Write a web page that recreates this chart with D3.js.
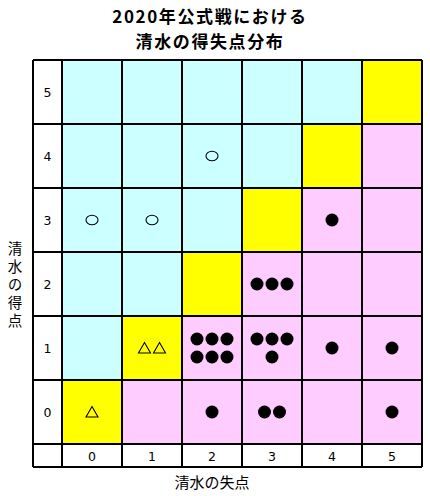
<!DOCTYPE html>
<html><head><meta charset="utf-8">
<script src="https://cdn.jsdelivr.net/npm/d3@7"></script>
<style>html,body{margin:0;padding:0;background:#fff;}</style>
</head><body>
<svg id="c" width="430" height="496"></svg>
<script>
const titleLines = ["2020年公式戦における", "清水の得失点分布"];
const xTitle = "清水の失点";
const yTitle = "清水の得点";
const goalValues = [0, 1, 2, 3, 4, 5];
// each cell: (conceded, scored) -> number of matches
const cellConceded = [0, 1, 2, 3, 4, 5, 2, 3, 5, 3, 4, 0, 1, 2];
const cellScored   = [0, 1, 1, 1, 1, 1, 0, 0, 0, 2, 3, 3, 3, 4];
const cellCounts   = [1, 2, 6, 4, 1, 1, 1, 2, 1, 3, 1, 1, 1, 1];

const svg = d3.select("#c");
const gLeft = 62, gRight = 422, gTop = 60, gBottom = 444, outerLeft = 33, outerBottom = 467;
const x = d3.scaleBand().domain(goalValues).range([gLeft, gRight]);
const y = d3.scaleBand().domain(goalValues).range([gBottom, gTop]);

const winColor = "#ccffff", drawColor = "#ffff00", lossColor = "#ffccff";

svg.append("rect").attr("x", outerLeft).attr("y", gTop).attr("width", gRight - outerLeft).attr("height", outerBottom - gTop).attr("fill", "#fff");

const cells = [];
goalValues.forEach(s => goalValues.forEach(c => cells.push({s, c})));
svg.selectAll("rect.cell").data(cells).join("rect")
  .attr("class", "cell")
  .attr("x", d => x(d.c)).attr("y", d => y(d.s))
  .attr("width", x.bandwidth()).attr("height", y.bandwidth())
  .attr("fill", d => d.s > d.c ? winColor : d.s === d.c ? drawColor : lossColor);

const g = svg.append("g").attr("stroke", "#000").attr("stroke-width", 1.2).attr("shape-rendering", "crispEdges");
[outerLeft, ...goalValues.map(v => x(v)), gRight].forEach(xx =>
  g.append("line").attr("x1", xx).attr("x2", xx).attr("y1", gTop).attr("y2", outerBottom));
[gTop, ...goalValues.map(v => y(v) + y.bandwidth()), outerBottom].forEach(yy =>
  g.append("line").attr("x1", outerLeft).attr("x2", gRight).attr("y1", yy).attr("y2", yy));

const tickFont = "'DejaVu Sans', sans-serif";
svg.selectAll("text.yt").data(goalValues).join("text")
  .attr("class", "yt")
  .attr("x", (outerLeft + gLeft) / 2).attr("y", d => y(d) + y.bandwidth() / 2)
  .attr("text-anchor", "middle").attr("dominant-baseline", "central")
  .attr("font-family", tickFont).attr("font-size", 12.5).text(d => d);
svg.selectAll("text.xt").data(goalValues).join("text")
  .attr("class", "xt")
  .attr("x", d => x(d) + x.bandwidth() / 2).attr("y", (gBottom + outerBottom) / 2 + 1)
  .attr("text-anchor", "middle").attr("dominant-baseline", "central")
  .attr("font-family", tickFont).attr("font-size", 12.5).text(d => d);

const jp = "'Noto Sans CJK JP', sans-serif";
const title = svg.append("text")
  .attr("text-anchor", "middle")
  .attr("font-family", jp).attr("font-weight", "bold").attr("font-size", 17)
  .attr("letter-spacing", 1.6);
title.selectAll("tspan").data(titleLines).join("tspan")
  .attr("x", 210).attr("y", (d, i) => 23 + i * 25)
  .text(d => d);
svg.append("text").attr("x", 212).attr("y", 481)
  .attr("text-anchor", "middle").attr("dominant-baseline", "central")
  .attr("font-family", jp).attr("font-size", 15).text(xTitle);
svg.append("text")
  .attr("x", 15).attr("y", 241)
  .attr("style", "writing-mode: vertical-rl; text-orientation: upright;")
  .attr("letter-spacing", 3.5)
  .attr("font-family", jp).attr("font-size", 14.5).text(yTitle);

const marks = [];
cellCounts.forEach((n, i) => {
  const c = cellConceded[i], s = cellScored[i];
  const type = s > c ? "win" : s === c ? "draw" : "loss";
  const cx = x(c) + x.bandwidth() / 2, cy = y(s) + y.bandwidth() / 2;
  const rows = Math.ceil(n / 3);
  for (let k = 0; k < n; k++) {
    const r = Math.floor(k / 3);
    const inRow = Math.min(3, n - r * 3);
    const col = k % 3;
    const px = cx + (col - (inRow - 1) / 2) * 15;
    const py = cy + (r - (rows - 1) / 2) * 18;
    marks.push({type, px, py});
  }
});
const mg = svg.append("g");
marks.forEach(m => {
  if (m.type === "loss") {
    mg.append("circle").attr("cx", m.px).attr("cy", m.py).attr("r", 6.5).attr("fill", "#000");
  } else if (m.type === "win") {
    mg.append("ellipse").attr("cx", m.px).attr("cy", m.py).attr("rx", 6).attr("ry", 4.8)
      .attr("fill", "none").attr("stroke", "#000").attr("stroke-width", 1.1);
  } else {
    mg.append("path").attr("d", `M${m.px},${m.py - 5.5}L${m.px + 6},${m.py + 5}L${m.px - 6},${m.py + 5}Z`)
      .attr("fill", "none").attr("stroke", "#000").attr("stroke-width", 1.1);
  }
});
</script>
</body></html>
